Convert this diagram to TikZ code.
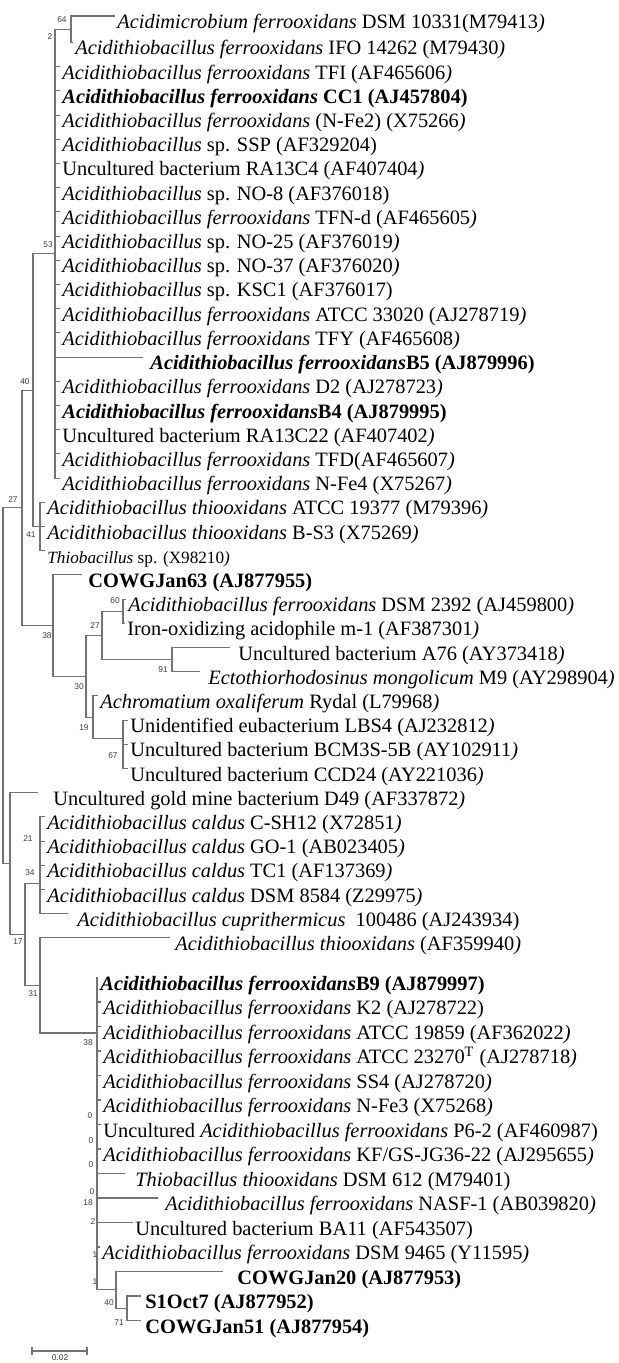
\documentclass[tikz,border=0pt]{standalone}
\usepackage{fontspec}
\setmainfont{Liberation Serif}
\newfontfamily\bsfam{Liberation Sans}
\newcommand\lf{\fontsize{10.2pt}{12pt}\selectfont}
\newcommand\lfs{\fontsize{8.6pt}{10pt}\selectfont}
\newcommand\bsf{\bsfam\fontsize{4.2pt}{5pt}\selectfont}
\newcommand\Af{\textit{Acidithiobacillus ferrooxidans}}
\newcommand\Ac{\textit{Acidithiobacillus}}
\newcommand\ip{\textit{)}}
\begin{document}
\begin{tikzpicture}[x=0.5pt,y=-0.5pt,
  leaf/.style={anchor=base west, inner sep=0pt, font=\lf, text=black},
  bs/.style={inner sep=0pt, font=\bsf, text=black!75},
  br/.style={draw=black!55, line width=0.55pt}]
\fill[white] (0,0) rectangle (618,1363);
\useasboundingbox (0,0) rectangle (618,1363);
% ---------- leaves ----------
\node[leaf] (t1) at (117,29) {\textit{Acidimicrobium ferrooxidans} DSM 10331(M79413\ip};
\node[leaf] (t2) at (75,55) {\Af{} IFO 14262 (M79430\ip};
\node[leaf] (t3) at (62,79.2) {\Af{} TFI (AF465606\ip};
\node[leaf] (t4) at (62,103.4) {\textbf{\textit{Acidithiobacillus ferrooxidans} CC1 (AJ457804)}};
\node[leaf] (t5) at (62,127.6) {\Af{} (N-Fe2) (X75266\ip};
\node[leaf] (t6) at (62,151.8) {\Ac{} sp. SSP (AF329204)};
\node[leaf] (t7) at (62,176.0) {Uncultured bacterium RA13C4 (AF407404\ip};
\node[leaf] (t8) at (62,200.2) {\Ac{} sp. NO-8 (AF376018)};
\node[leaf] (t9) at (62,224.4) {\Af{} TFN-d (AF465605\ip};
\node[leaf] (t10) at (62,248.6) {\Ac{} sp. NO-25 (AF376019\ip};
\node[leaf] (t11) at (62,272.8) {\Ac{} sp. NO-37 (AF376020\ip};
\node[leaf] (t12) at (62,297.0) {\Ac{} sp. KSC1 (AF376017)};
\node[leaf] (t13) at (62,321.2) {\Af{} ATCC 33020 (AJ278719\ip};
\node[leaf] (t14) at (62,345.4) {\Af{} TFY (AF465608\ip};
\node[leaf] (t15) at (150,369.6) {\textbf{\textit{Acidithiobacillus ferrooxidans}B5 (AJ879996)}};
\node[leaf] (t16) at (62,393.8) {\Af{} D2 (AJ278723\ip};
\node[leaf] (t17) at (62,418.0) {\textbf{\textit{Acidithiobacillus ferrooxidans}B4 (AJ879995)}};
\node[leaf] (t18) at (62,442.2) {Uncultured bacterium RA13C22 (AF407402\ip};
\node[leaf] (t19) at (62,466.4) {\Af{} TFD(AF465607\ip};
\node[leaf] (t20) at (62,490.6) {\Af{} N-Fe4 (X75267\ip};
\node[leaf] (t21) at (47,514.8) {\textit{Acidithiobacillus thiooxidans} ATCC 19377 (M79396\ip};
\node[leaf] (t22) at (47,539.0) {\textit{Acidithiobacillus thiooxidans} B-S3 (X75269\ip};
\node[leaf,font=\lfs] (t23) at (47,563.2) {\textit{Thiobacillus} sp. (X98210\ip};
\node[leaf] (t24) at (88,587.4) {\textbf{COWGJan63 (AJ877955)}};
\node[leaf] (t25) at (128,611.6) {\Af{} DSM 2392 (AJ459800\ip};
\node[leaf] (t26) at (127,635.8) {Iron-oxidizing acidophile m-1 (AF387301\ip};
\node[leaf] (t27) at (238,660.0) {Uncultured bacterium A76 (AY373418\ip};
\node[leaf] (t28) at (208,684.2) {\textit{Ectothiorhodosinus mongolicum} M9 (AY298904\ip};
\node[leaf] (t29) at (100,708.4) {\textit{Achromatium oxaliferum} Rydal (L79968\ip};
\node[leaf] (t30) at (130,732.6) {Unidentified eubacterium LBS4 (AJ232812\ip};
\node[leaf] (t31) at (130,756.8) {Uncultured bacterium BCM3S-5B (AY102911\ip};
\node[leaf] (t32) at (130,781.0) {Uncultured bacterium CCD24 (AY221036\ip};
\node[leaf] (t33) at (53,805.2) {Uncultured gold mine bacterium D49 (AF337872\ip};
\node[leaf] (t34) at (47,829.4) {\textit{Acidithiobacillus caldus} C-SH12 (X72851\ip};
\node[leaf] (t35) at (47,853.6) {\textit{Acidithiobacillus caldus} GO-1 (AB023405\ip};
\node[leaf] (t36) at (47,877.8) {\textit{Acidithiobacillus caldus} TC1 (AF137369\ip};
\node[leaf] (t37) at (47,902.0) {\textit{Acidithiobacillus caldus} DSM 8584 (Z29975\ip};
\node[leaf] (t38) at (77,926.2) {\textit{Acidithiobacillus cuprithermicus}\ \ 100486 (AJ243934)};
\node[leaf] (t39) at (175,950.4) {\textit{Acidithiobacillus thiooxidans} (AF359940\ip};
\node[leaf] (t40) at (100,990.0) {\textbf{\textit{Acidithiobacillus ferrooxidans}B9 (AJ879997)}};
\node[leaf] (t41) at (103,1014.5) {\Af{} K2 (AJ278722)};
\node[leaf] (t42) at (103,1039.0) {\Af{} ATCC 19859 (AF362022\ip};
\node[leaf] (t43) at (103,1063.5) {\Af{} ATCC 23270\textsuperscript{T} (AJ278718\ip};
\node[leaf] (t44) at (103,1088.0) {\Af{} SS4 (AJ278720\ip};
\node[leaf] (t45) at (103,1112.5) {\Af{} N-Fe3 (X75268\ip};
\node[leaf] (t46) at (103,1137.0) {Uncultured \Af{} P6-2 (AF460987)};
\node[leaf] (t47) at (103,1161.5) {\Af{} KF/GS-JG36-22 (AJ295655\ip};
\node[leaf] (t48) at (135,1186.0) {\textit{Thiobacillus thiooxidans} DSM 612 (M79401)};
\node[leaf] (t49) at (165,1210.5) {\Af{} NASF-1 (AB039820\ip};
\node[leaf] (t50) at (135,1235.0) {Uncultured bacterium BA11 (AF543507)};
\node[leaf] (t51) at (102,1259.5) {\Af{} DSM 9465 (Y11595\ip};
\node[leaf] (t52) at (237,1284.0) {\textbf{COWGJan20 (AJ877953)}};
\node[leaf] (t53) at (145,1308.5) {\textbf{S1Oct7 (AJ877952)}};
\node[leaf] (t54) at (145,1333.0) {\textbf{COWGJan51 (AJ877954)}};
% ---------- branch ends ----------
\coordinate (e1) at (115,16);
\coordinate (e2) at (73,42.5);
\coordinate (e3) at (60,66.7);
\coordinate (e4) at (60,90.9);
\coordinate (e5) at (60,115.1);
\coordinate (e6) at (60,139.3);
\coordinate (e7) at (60,163.5);
\coordinate (e8) at (60,187.7);
\coordinate (e9) at (60,211.9);
\coordinate (e10) at (60,236.1);
\coordinate (e11) at (60,260.3);
\coordinate (e12) at (60,284.5);
\coordinate (e13) at (60,308.7);
\coordinate (e14) at (60,332.9);
\coordinate (e15) at (143,357.1);
\coordinate (e16) at (60,381.3);
\coordinate (e17) at (60,405.5);
\coordinate (e18) at (60,429.7);
\coordinate (e19) at (60,453.9);
\coordinate (e20) at (60,478.1);
\coordinate (e21) at (45,502.3);
\coordinate (e22) at (45,526.5);
\coordinate (e23) at (45,550.7);
\coordinate (e24) at (82,574.9);
\coordinate (e25) at (126,599.1);
\coordinate (e26) at (125,623.3);
\coordinate (e27) at (230,647.5);
\coordinate (e28) at (200,671.7);
\coordinate (e29) at (98,695.9);
\coordinate (e30) at (128,720.1);
\coordinate (e31) at (128,744.3);
\coordinate (e32) at (128,768.5);
\coordinate (e33) at (38,792.7);
\coordinate (e34) at (45,816.9);
\coordinate (e35) at (45,841.1);
\coordinate (e36) at (45,865.3);
\coordinate (e37) at (45,889.5);
\coordinate (e38) at (68,913.7);
\coordinate (e39) at (170,937.9);
\coordinate (e40) at (98,977.5);
\coordinate (e41) at (101,1002);
\coordinate (e42) at (101,1026.5);
\coordinate (e43) at (101,1051);
\coordinate (e44) at (101,1075.5);
\coordinate (e45) at (101,1100);
\coordinate (e46) at (101,1124.5);
\coordinate (e47) at (101,1149);
\coordinate (e48) at (125,1173.5);
\coordinate (e49) at (158,1198);
\coordinate (e50) at (133,1222.5);
\coordinate (e51) at (100,1247);
\coordinate (e52) at (223,1271.5);
\coordinate (e53) at (141,1296);
\coordinate (e54) at (141,1320.5);
% ---------- internal nodes ----------
\coordinate (n64) at (71,29.25);
\coordinate (n53) at (55,253.7);
\coordinate (n41) at (40,526.5);
\coordinate (n40) at (33,390.1);
\coordinate (n60) at (123,611.2);
\coordinate (n91) at (172,659.6);
\coordinate (n27b) at (102,635.4);
\coordinate (n67) at (123,756.4);
\coordinate (n67p) at (123,738.25);
\coordinate (n19) at (93,717.1);
\coordinate (n30) at (86,676.25);
\coordinate (n38) at (53,625.6);
\coordinate (n27) at (22,507.85);
\coordinate (ncald) at (40,853.2);
\coordinate (n34) at (40,883.45);
\coordinate (n71) at (127,1308.25);
\coordinate (n40b) at (116,1289.9);
\coordinate (n38b) at (97,1033);
\coordinate (n31) at (40,985.45);
\coordinate (n17) at (25,934.45);
\coordinate (nlow) at (10,863.6);
\coordinate (root) at (3,685.7);
% ---------- branches ----------
\draw[br] (n64) |- (e1);
\draw[br] (n64) |- (e2);
\draw[br] (n53) |- (n64);
\foreach \i in {3,...,20} {\draw[br] (n53) |- (e\i);}
\draw[br] (n40) |- (n53);
\draw[br] (n40) |- (n41);
\foreach \i in {21,22,23} {\draw[br] (n41) |- (e\i);}
\draw[br] (n27) |- (n40);
\draw[br] (n27) |- (n38);
\draw[br] (n38) |- (e24);
\draw[br] (n38) |- (n30);
\draw[br] (n30) |- (n27b);
\draw[br] (n30) |- (n19);
\draw[br] (n27b) |- (n60);
\draw[br] (n27b) |- (n91);
\draw[br] (n60) |- (e25);
\draw[br] (n60) |- (e26);
\draw[br] (n91) |- (e27);
\draw[br] (n91) |- (e28);
\draw[br] (n19) |- (e29);
\draw[br] (n19) |- (n67p);
\draw[br] (n67p) |- (e30);
\draw[br] (n67p) |- (n67);
\draw[br] (n67) |- (e31);
\draw[br] (n67) |- (e32);
\draw[br] (root) |- (n27);
\draw[br] (root) |- (nlow);
\draw[br] (nlow) |- (e33);
\draw[br] (nlow) |- (n17);
\draw[br] (n17) |- (n34);
\draw[br] (n17) |- (n31);
\draw[br] (n34) |- (ncald);
\draw[br] (n34) |- (e38);
\foreach \i in {34,...,37} {\draw[br] (ncald) |- (e\i);}
\draw[br] (n31) |- (e39);
\draw[br] (n31) |- (n38b);
\foreach \i in {40,...,51} {\draw[br] (n38b) |- (e\i);}
\draw[br] (n38b) |- (n40b);
\draw[br] (n40b) |- (e52);
\draw[br] (n40b) |- (n71);
\draw[br] (n71) |- (e53);
\draw[br] (n71) |- (e54);
% ---------- bootstrap values ----------
\node[bs] (b64) at (62,20) {64};
\node[bs] (b2) at (50,37) {2};
\node[bs] (b53) at (48,245) {53};
\node[bs] (b40) at (25,382) {40};
\node[bs] (b27) at (13,500) {27};
\node[bs] (b41) at (31,535) {41};
\node[bs] (b38) at (47,636) {38};
\node[bs] (b27b) at (95,626) {27};
\node[bs] (b60) at (115,601) {60};
\node[bs] (b91) at (163,670) {91};
\node[bs] (b30) at (79,687) {30};
\node[bs] (b19) at (84,728) {19};
\node[bs] (b67) at (113,756) {67};
\node[bs] (b21) at (28,839) {21};
\node[bs] (b34) at (30,873) {34};
\node[bs] (b17) at (18,942) {17};
\node[bs] (b31) at (33,994) {31};
\node[bs] (b38c) at (88,1043) {38};
\node[bs] (b0a) at (90,1116) {0};
\node[bs] (b0b) at (91,1141) {0};
\node[bs] (b0c) at (91,1165) {0};
\node[bs] (b0d) at (92,1192) {0};
\node[bs] (b18) at (88,1203) {18};
\node[bs] (b2b) at (93,1222) {2};
\node[bs] (b1a) at (95,1255) {1};
\node[bs] (b1b) at (95,1282) {1};
\node[bs] (b40b) at (109,1303) {40};
\node[bs] (b71) at (119,1323) {71};
% ---------- scale bar ----------
\coordinate (sb1) at (32,1351);
\coordinate (sb2) at (87,1351);
\draw[br] (sb1) -- (sb2);
\draw[br] ([yshift=2pt]sb1) -- ([yshift=-2pt]sb1);
\draw[br] ([yshift=2pt]sb2) -- ([yshift=-2pt]sb2);
\node[bs] (sbl) at (60,1358) {0.02};
\end{tikzpicture}
\end{document}
